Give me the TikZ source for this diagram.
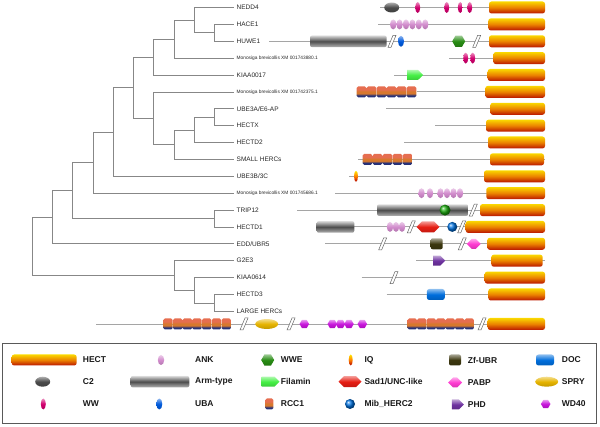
\documentclass[tikz,border=0pt]{standalone}
\usepackage{fontspec}
\setmainfont{Liberation Sans}
\usetikzlibrary{shapes.geometric,shapes.symbols}

\definecolor{treegray}{RGB}{135,135,135}
\definecolor{linegray}{RGB}{165,165,165}
\definecolor{hectTop}{RGB}{250,215,0}
\definecolor{hectMid}{RGB}{235,130,0}
\definecolor{hectBot}{RGB}{185,20,0}
\definecolor{rccTop}{RGB}{230,110,80}
\definecolor{rccMid}{RGB}{215,120,45}
\definecolor{rccBot}{RGB}{40,50,120}
\definecolor{c2Col}{RGB}{75,75,75}
\definecolor{wwCol}{RGB}{210,0,110}
\definecolor{ankCol}{RGB}{210,140,205}
\definecolor{ubaCol}{RGB}{0,90,220}
\definecolor{wweCol}{RGB}{40,140,20}
\definecolor{filCol}{RGB}{70,240,70}
\definecolor{sadCol}{RGB}{230,30,20}
\definecolor{mibCol}{RGB}{0,80,220}
\definecolor{zfCol}{RGB}{60,55,15}
\definecolor{pabpCol}{RGB}{255,60,210}
\definecolor{phdCol}{RGB}{110,50,160}
\definecolor{docCol}{RGB}{0,110,220}
\definecolor{spryCol}{RGB}{230,180,0}
\definecolor{wdCol}{RGB}{200,20,220}

\pgfdeclareverticalshading{rccshade}{100bp}{color(0bp)=(rccBot); color(36bp)=(rccBot); color(41bp)=(rccMid); color(52bp)=(rccMid); color(60bp)=(rccTop); color(100bp)=(rccTop)}

\begin{document}
\begin{tikzpicture}[x=1pt,y=-1pt,
  tree/.style={treegray, line width=0.7pt},
  leaf/.style={anchor=west, inner xsep=3pt, inner ysep=1pt, text=black!85, font=\fontsize{6.5}{7}\selectfont},
  mono/.style={leaf, font=\fontsize{4.8}{5}\selectfont},
  bone/.style={linegray, line width=0.9pt},
  hect/.style={rounded corners=2.5pt, top color=hectTop, bottom color=hectBot, middle color=hectMid},
  arm/.style={rounded corners=2pt, top color=gray!30, bottom color=gray!60, middle color=black!70},
  rcc/.style={rounded corners=1.5pt, shading=rccshade},
  dom/.style={inner sep=0pt, outer sep=0pt, top color=#1!45!white, bottom color=#1!85!black, middle color=#1},
  ww/.style={dom=wwCol, ellipse, minimum width=5pt, minimum height=11pt},
  ank/.style={dom=ankCol, ellipse, minimum width=6.4pt, minimum height=10pt},
  uba/.style={dom=ubaCol, ellipse, minimum width=6pt, minimum height=11pt},
  c2/.style={dom=c2Col, ellipse, minimum width=15pt, minimum height=10pt},
  wwe/.style={dom=wweCol, regular polygon, regular polygon sides=6, minimum size=13pt},
  wweball/.style={inner sep=0pt, circle, minimum size=11pt, ball color=wweCol!70!green},
  filamin/.style={dom=filCol, signal, signal to=east, minimum width=16pt, minimum height=10pt},
  iq/.style={inner sep=0pt, ellipse, minimum width=4pt, minimum height=11pt, top color=yellow!80!orange, bottom color=red!70!black, middle color=orange},
  sad/.style={dom=sadCol, signal, signal to=east and west, minimum width=23pt, minimum height=11pt},
  mib/.style={inner sep=0pt, circle, minimum size=10pt, ball color=mibCol!80!cyan},
  zf/.style={dom=zfCol, rounded corners=2pt, minimum width=12pt, minimum height=11pt},
  pabp/.style={dom=pabpCol, signal, signal to=east and west, minimum width=14pt, minimum height=10pt},
  phd/.style={dom=phdCol, signal, signal to=east, minimum width=12pt, minimum height=10pt},
  doc/.style={dom=docCol, rounded corners=2.5pt, minimum width=18pt, minimum height=11pt},
  spry/.style={dom=spryCol, ellipse, minimum width=23pt, minimum height=10pt},
  wd/.style={dom=wdCol, regular polygon, regular polygon sides=6, minimum size=9.5pt},
  key/.style={anchor=west, inner sep=0pt, text=black!90, font=\bfseries\fontsize{8.5}{10}\selectfont},
  brk/.pic={\draw[fill=white, draw=black!60, line width=0.5pt] (-4,6) -- (-1,6) -- (4,-6) -- (1,-6) -- cycle;}
]
\useasboundingbox (0,0) rectangle (600,427);

% leaves
\node[leaf] (tNEDD4) at (233.5,7.5) {NEDD4};
\node[leaf] (tHACE1) at (233.5,24.4) {HACE1};
\node[leaf] (tHUWE1) at (233.5,41.3) {HUWE1};
\node[mono] (tMonoA) at (233.5,58.1) {Monosiga brevicollis XM 001743880.1};
\node[leaf] (tKIAA0017) at (233.5,75.0) {KIAA0017};
\node[mono] (tMonoB) at (233.5,91.9) {Monosiga brevicollis XM 001742375.1};
\node[leaf] (tUBE3A) at (233.5,108.8) {UBE3A/E6-AP};
\node[leaf] (tHECTX) at (233.5,125.7) {HECTX};
\node[leaf] (tHECTD2) at (233.5,142.5) {HECTD2};
\node[leaf] (tSmall) at (233.5,159.4) {SMALL HERCs};
\node[leaf] (tUBE3B) at (233.5,176.3) {UBE3B/3C};
\node[mono] (tMonoC) at (233.5,193.2) {Monosiga brevicollis XM 001745686.1};
\node[leaf] (tTRIP12) at (233.5,210.1) {TRIP12};
\node[leaf] (tHECTD1) at (233.5,226.9) {HECTD1};
\node[leaf] (tEDD) at (233.5,243.8) {EDD/UBR5};
\node[leaf] (tG2E3) at (233.5,260.7) {G2E3};
\node[leaf] (tKIAA0614) at (233.5,277.6) {KIAA0614};
\node[leaf] (tHECTD3) at (233.5,294.5) {HECTD3};
\node[leaf] (tLarge) at (233.5,311.3) {LARGE HERCs};

% branch points
\coordinate (jHaceHuwe) at (214.3,32.85);
\coordinate (jNedd) at (194.3,20.2);
\coordinate (jMonoA) at (174.7,39.15);
\coordinate (jKiaa) at (153.3,57.1);
\coordinate (jUbeHectx) at (214.3,117.25);
\coordinate (jHectd2) at (194.3,129.9);
\coordinate (jSmall) at (174.7,144.6);
\coordinate (jMonoB) at (153.3,118.3);
\coordinate (jUpper) at (133.3,87.7);
\coordinate (jUbe3b) at (113.3,132.0);
\coordinate (jMonoC) at (93.3,162.6);
\coordinate (jTrip) at (214.3,218.5);
\coordinate (jTripUp) at (72.7,190.6);
\coordinate (jEdd) at (52.3,217.2);
\coordinate (jHerc) at (214.3,302.9);
\coordinate (jKiaa0614) at (194.3,290.3);
\coordinate (jG2e3) at (174.7,275.5);
\coordinate (jRoot) at (32.3,246.4);

\draw[tree] (jHaceHuwe) |- (tHACE1.west) (jHaceHuwe) |- (tHUWE1.west);
\draw[tree] (jNedd) |- (tNEDD4.west) (jNedd) |- (jHaceHuwe);
\draw[tree] (jMonoA) |- (jNedd) (jMonoA) |- (tMonoA.west);
\draw[tree] (jKiaa) |- (jMonoA) (jKiaa) |- (tKIAA0017.west);
\draw[tree] (jUbeHectx) |- (tUBE3A.west) (jUbeHectx) |- (tHECTX.west);
\draw[tree] (jHectd2) |- (jUbeHectx) (jHectd2) |- (tHECTD2.west);
\draw[tree] (jSmall) |- (jHectd2) (jSmall) |- (tSmall.west);
\draw[tree] (jMonoB) |- (tMonoB.west) (jMonoB) |- (jSmall);
\draw[tree] (jUpper) |- (jKiaa) (jUpper) |- (jMonoB);
\draw[tree] (jUbe3b) |- (jUpper) (jUbe3b) |- (tUBE3B.west);
\draw[tree] (jMonoC) |- (jUbe3b) (jMonoC) |- (tMonoC.west);
\draw[tree] (jTrip) |- (tTRIP12.west) (jTrip) |- (tHECTD1.west);
\draw[tree] (jTripUp) |- (jMonoC) (jTripUp) |- (jTrip);
\draw[tree] (jEdd) |- (jTripUp) (jEdd) |- (tEDD.west);
\draw[tree] (jHerc) |- (tHECTD3.west) (jHerc) |- (tLarge.west);
\draw[tree] (jKiaa0614) |- (tKIAA0614.west) (jKiaa0614) |- (jHerc);
\draw[tree] (jG2e3) |- (tG2E3.west) (jG2e3) |- (jKiaa0614);
\draw[tree] (jRoot) |- (jEdd) (jRoot) |- (jG2e3);

% NEDD4
\draw[bone] (380.3,7.5) -- (545,7.5);
\node[c2] (neddC2) at (391.7,7.5) {};
\foreach \x [count=\k] in {417.7,446.7,460.3,469.7} \node[ww] (neddWW\k) at (\x,7.5) {};
\path[hect] (489,1.5) rectangle (545,13.5);
% HACE1
\draw[bone] (378.3,24.4) -- (545,24.4);
\foreach \k in {0,...,5} \node[ank] (haceANK\k) at ({393.2+6.4*\k},24.4) {};
\path[hect] (488.3,18.4) rectangle (545,30.4);
% HUWE1
\draw[bone] (269.3,41.3) -- (545,41.3);
\path[arm] (310,35.5) rectangle (386.7,47.1);
\pic at (392,41.3) {brk};
\node[uba] (huweUBA) at (401,41.3) {};
\node[wwe] (huweWWE) at (458.7,41.3) {};
\pic at (476.7,41.3) {brk};
\path[hect] (489,35.3) rectangle (545,47.3);
% Monosiga 1
\draw[bone] (449.3,58.1) -- (545,58.1);
\node[ww] (monoAWW1) at (465.7,58.1) {};
\node[ww] (monoAWW2) at (472.7,58.1) {};
\path[hect] (493.3,52.1) rectangle (545,64.1);
% KIAA0017
\draw[bone] (394,75) -- (545,75);
\node[filamin] (kiaaFIL) at (412.5,75) {};
\path[hect] (487.7,69) rectangle (545,81);
% Monosiga 2
\draw[bone] (416.7,91.9) -- (545,91.9);
\foreach \k in {0,...,5} \path[rcc] ({356.7+10*\k},86.4) rectangle ({366.3+10*\k},97.4);
\path[hect] (485.3,85.9) rectangle (545,97.9);
% UBE3A, HECTX, HECTD2
\draw[bone] (386,108.8) -- (545,108.8);
\path[hect] (490.3,102.8) rectangle (545,114.8);
\draw[bone] (435,125.7) -- (545,125.7);
\path[hect] (486,119.7) rectangle (545,131.7);
\draw[bone] (404,142.5) -- (545,142.5);
\path[hect] (488,136.5) rectangle (545,148.5);
% SMALL HERCs
\draw[bone] (358,159.4) -- (545,159.4);
\foreach \k in {0,...,4} \path[rcc] ({362.7+10*\k},153.9) rectangle ({372.3+10*\k},164.9);
\path[hect] (490,153.4) rectangle (544,165.4);
% UBE3B/3C
\draw[bone] (349.3,176.3) -- (545,176.3);
\node[iq] (ubeIQ) at (356,176.3) {};
\path[hect] (484,170.3) rectangle (545,182.3);
% Monosiga 3
\draw[bone] (335,193.2) -- (545,193.2);
\foreach \x [count=\k] in {421.5,430,440.5,447,453.5,460} \node[ank] (monoCANK\k) at (\x,193.2) {};
\path[hect] (486.3,187.2) rectangle (545,199.2);
% TRIP12
\draw[bone] (297.3,210.1) -- (545,210.1);
\path[arm] (377,204.3) rectangle (468.3,215.9);
\node[wweball] (tripWWE) at (445,210.1) {};
\pic at (473.3,210.1) {brk};
\path[hect] (480,204.1) rectangle (545,216.1);
% HECTD1
\draw[bone] (316.7,226.9) -- (545,226.9);
\path[arm] (316.7,221.1) rectangle (354.3,232.7);
\foreach \x [count=\k] in {390,396,402} \node[ank] (hectdANK\k) at (\x,226.9) {};
\pic at (411.3,226.9) {brk};
\node[sad] (hectdSAD) at (428,226.9) {};
\node[mib] (hectdMIB) at (452.3,226.9) {};
\pic at (461.7,226.9) {brk};
\path[hect] (465.7,220.9) rectangle (545,232.9);
% EDD/UBR5
\draw[bone] (325,243.8) -- (545,243.8);
\pic at (382.7,243.8) {brk};
\node[zf] (eddZF) at (436.7,243.8) {};
\pic at (462.3,243.8) {brk};
\node[pabp] (eddPABP) at (473.7,243.8) {};
\path[hect] (487.3,237.8) rectangle (545,249.8);
% G2E3
\draw[bone] (416,260.7) -- (545,260.7);
\node[phd] (g2PHD) at (436.7,260.7) {};
\path[hect] (491.3,254.7) rectangle (542.7,266.7);
% KIAA0614
\draw[bone] (361.7,277.6) -- (545,277.6);
\pic at (394,277.6) {brk};
\path[hect] (484.7,271.6) rectangle (545,283.6);
% HECTD3
\draw[bone] (386.7,294.5) -- (545,294.5);
\node[doc] (hectd3DOC) at (435.8,294.5) {};
\path[hect] (488.3,288.5) rectangle (545,300.5);
% LARGE HERCs
\draw[bone] (96,324) -- (545,324);
\foreach \k in {0,...,6} \path[rcc] ({163.3+9.7*\k},318.5) rectangle ({172.6+9.7*\k},329.5);
\pic at (244,324) {brk};
\node[spry] (largeSPRY) at (266.7,324) {};
\pic at (291,324) {brk};
\foreach \x [count=\k] in {304.3,332.3,340.5,349,362.3} \node[wd] (largeWD\k) at (\x,324) {};
\foreach \k in {0,...,6} \path[rcc] ({407.7+9.5*\k},318.5) rectangle ({416.8+9.5*\k},329.5);
\pic at (482,324) {brk};
\path[hect] (487.7,318) rectangle (545,330);

% legend
\draw[black!65, line width=0.7pt] (2.7,343.3) rectangle (596.7,423.3);
\path[hect] (11.7,354.5) rectangle (76.7,365.5);
\node[key] (kHECT) at (82.7,360) {HECT};
\node[c2] (iC2) at (42.7,381.7) {};
\node[key] (kC2) at (82.7,381.7) {C2};
\node[ww] (iWW) at (43.3,404) {};
\node[key] (kWW) at (82.7,404) {WW};
\node[ank] (iANK) at (161,360) {};
\node[key] (kANK) at (195,360) {ANK};
\path[arm] (130.7,376) rectangle (189.3,387.4);
\node[key] (kArm) at (195,381.7) {Arm-type};
\node[uba] (iUBA) at (159.3,404) {};
\node[key] (kUBA) at (195,404) {UBA};
\node[wwe] (iWWE) at (267.7,360) {};
\node[key] (kWWE) at (280.7,360) {WWE};
\node[filamin, minimum width=18pt] (iFIL) at (268,381.7) {};
\node[key] (kFIL) at (280.7,381.7) {Filamin};
\path[rcc] (265.3,398.5) rectangle (273.3,409.5);
\node[key] (kRCC) at (280.7,404) {RCC1};
\node[iq] (iIQ) at (350.7,360) {};
\node[key] (kIQ) at (364.3,360) {IQ};
\node[sad] (iSAD) at (350,381.7) {};
\node[key] (kSAD) at (364.3,381.7) {Sad1/UNC-like};
\node[mib] (iMIB) at (350,404) {};
\node[key] (kMIB) at (364.3,403.5) {Mib\_HERC2};
\node[zf] (iZF) at (455,360) {};
\node[key] (kZF) at (467.7,360) {Zf-UBR};
\node[pabp] (iPABP) at (455,382.5) {};
\node[key] (kPABP) at (467.7,383) {PABP};
\node[phd] (iPHD) at (455.3,404.5) {};
\node[key] (kPHD) at (467.7,405) {PHD};
\node[doc] (iDOC) at (545,360) {};
\node[key] (kDOC) at (561.7,360) {DOC};
\node[spry] (iSPRY) at (546.7,381.7) {};
\node[key] (kSPRY) at (561.7,381.7) {SPRY};
\node[wd] (iWD) at (545.7,404) {};
\node[key] (kWD) at (561.7,404) {WD40};
\end{tikzpicture}
\end{document}
